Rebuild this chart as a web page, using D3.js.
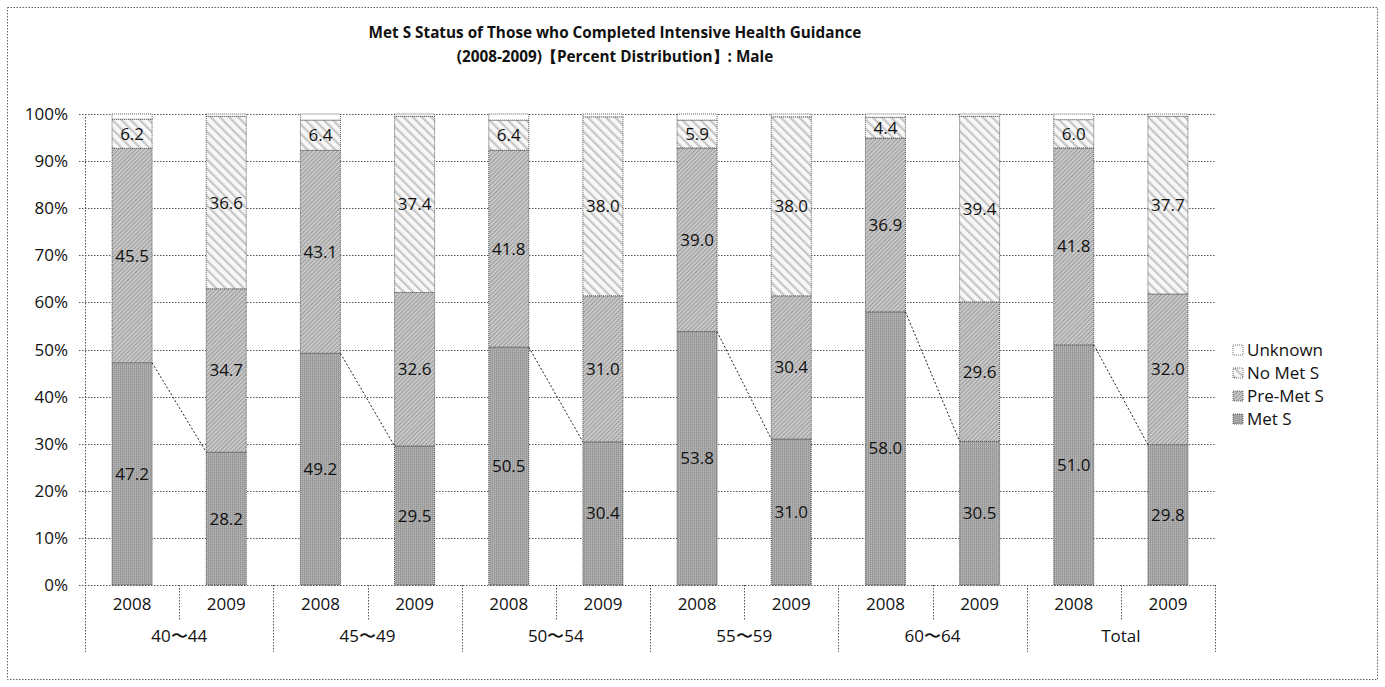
<!DOCTYPE html>
<meta charset="utf-8">
<style>
body { margin: 0; background: #fff; }
text { font-family: "Open Sans", "Noto Sans", sans-serif; fill: #111; }
.grid line { stroke: #555; stroke-dasharray: 1.5,1.5; stroke-width: 1; }
.lbl { font-size: 17px; text-anchor: middle; }
</style>
<svg width="1385" height="687"></svg>
<script src="https://d3js.org/d3.v7.min.js"></script>
<script>

var groups = ["40\u301C44", "45\u301C49", "50\u301C54", "55\u301C59", "60\u301C64", "Total"];
var years = ["2008", "2009"];
var series = ["Met S", "Pre-Met S", "No Met S", "Unknown"];

// values per bar, in order of groups x years
var metS    = [47.2, 28.2, 49.2, 29.5, 50.5, 30.4, 53.8, 31.0, 58.0, 30.5, 51.0, 29.8];
var preMetS = [45.5, 34.7, 43.1, 32.6, 41.8, 31.0, 39.0, 30.4, 36.9, 29.6, 41.8, 32.0];
var noMetS  = [ 6.2, 36.6,  6.4, 37.4,  6.4, 38.0,  5.9, 38.0,  4.4, 39.4,  6.0, 37.7];
var unknown = [ 1.1,  0.5,  1.3,  0.5,  1.3,  0.6,  1.3,  0.6,  0.7,  0.5,  1.2,  0.5];

var yTicks = [0, 10, 20, 30, 40, 50, 60, 70, 80, 90, 100];

var svg = d3.select("svg");

var pLeft = 85, pRight = 1215, pTop = 114, pBottom = 585;

var keys = [];
groups.forEach(function(g) { years.forEach(function(y) { keys.push(g + "|" + y); }); });

var x = d3.scaleBand().domain(keys).range([pLeft, pRight])
    .paddingInner(0.575).paddingOuter(0.2875);
var y = d3.scaleLinear().domain([0, 100]).range([pBottom, pTop]);

// patterns
var defs = svg.append("defs");

var p1 = defs.append("pattern").attr("id", "pMet").attr("patternUnits", "userSpaceOnUse")
    .attr("width", 2).attr("height", 2);
p1.append("rect").attr("width", 2).attr("height", 2).attr("fill", "#b8b8b8");
p1.append("rect").attr("width", 1).attr("height", 2).attr("fill", "#9a9a9a");
p1.append("rect").attr("x", 1).attr("width", 1).attr("height", 1).attr("fill", "#a6a6a6");

var p2 = defs.append("pattern").attr("id", "pPre").attr("patternUnits", "userSpaceOnUse")
    .attr("width", 3).attr("height", 3).attr("patternTransform", "rotate(45)");
p2.append("rect").attr("width", 3).attr("height", 3).attr("fill", "#cdcdcd");
p2.append("rect").attr("width", 1.2).attr("height", 3).attr("fill", "#9c9c9c");

var p3 = defs.append("pattern").attr("id", "pNo").attr("patternUnits", "userSpaceOnUse")
    .attr("width", 6.5).attr("height", 6.5).attr("patternTransform", "rotate(-45)");
p3.append("rect").attr("width", 6.5).attr("height", 6.5).attr("fill", "#f7f7f7");
p3.append("rect").attr("width", 2.2).attr("height", 6.5).attr("fill", "#c6c6c6");

var fills = { "Met S": "url(#pMet)", "Pre-Met S": "url(#pPre)", "No Met S": "url(#pNo)", "Unknown": "#fff" };
var vals = { "Met S": metS, "Pre-Met S": preMetS, "No Met S": noMetS, "Unknown": unknown };

// outer border
svg.append("rect").attr("x", 7.5).attr("y", 7.5).attr("width", 1370).attr("height", 672)
    .attr("fill", "none").attr("stroke", "#666").attr("stroke-dasharray", "1.5,1.5");

// title
svg.append("text").attr("x", 615).attr("y", 38).attr("text-anchor", "middle")
    .style("font-size", "15.3px").style("font-weight", "bold")
    .text("Met S Status of Those who Completed Intensive Health Guidance");
svg.append("text").attr("x", 615).attr("y", 62).attr("text-anchor", "middle")
    .style("font-size", "15.3px").style("font-weight", "bold")
    .text("(2008-2009)\u3010Percent Distribution\u3011: Male");

// grid
var grid = svg.append("g").attr("class", "grid");
grid.selectAll("line").data(yTicks).enter().append("line")
    .attr("x1", pLeft - 6).attr("x2", pRight)
    .attr("y1", function(d) { return Math.round(y(d)) + 0.5; })
    .attr("y2", function(d) { return Math.round(y(d)) + 0.5; });
grid.append("line").attr("x1", pLeft + 0.5).attr("x2", pLeft + 0.5)
    .attr("y1", pTop).attr("y2", pBottom);

svg.selectAll(".ytick").data(yTicks).enter().append("text")
    .attr("x", 68).attr("y", function(d) { return y(d) + 6; })
    .attr("text-anchor", "end").style("font-size", "17px")
    .text(function(d) { return d + "%"; });

// stacked bars
var stackData = keys.map(function(k, i) {
    var o = { key: k };
    series.forEach(function(s) { o[s] = vals[s][i]; });
    return o;
});
var stacked = d3.stack().keys(series)(stackData);

var layer = svg.selectAll(".layer").data(stacked).enter().append("g")
    .attr("fill", function(d) { return fills[d.key]; });

layer.selectAll("rect").data(function(d) { return d; }).enter().append("rect")
    .attr("x", function(d) { return x(d.data.key); })
    .attr("width", x.bandwidth())
    .attr("y", function(d) { return y(d[1]); })
    .attr("height", function(d) { return y(d[0]) - y(d[1]); })
    .attr("stroke", "#333").attr("stroke-width", 0.8).attr("stroke-dasharray", "1,1");

// labels
stacked.forEach(function(s) {
    if (s.key == "Unknown") return;
    svg.selectAll(null).data(s).enter().append("text").attr("class", "lbl")
        .attr("x", function(d) { return x(d.data.key) + x.bandwidth() / 2; })
        .attr("y", function(d) { return y((d[0] + d[1]) / 2) + 6; })
        .text(function(d) { return (d[1] - d[0]).toFixed(1); });
});

// dashed series lines between 2008 and 2009 Met S tops
var metLayer = stacked[0];
for (var g = 0; g < groups.length; g++) {
    var a = metLayer[g * 2], b = metLayer[g * 2 + 1];
    svg.append("line")
        .attr("x1", x(a.data.key) + x.bandwidth()).attr("y1", y(a[1]))
        .attr("x2", x(b.data.key)).attr("y2", y(b[1]))
        .attr("stroke", "#222").attr("stroke-width", 1).attr("stroke-dasharray", "2,2");
}

// x axis: years and groups
var step = x.step();
svg.selectAll(".yr").data(keys).enter().append("text")
    .attr("x", function(d) { return x(d) + x.bandwidth() / 2; })
    .attr("y", 610).attr("text-anchor", "middle").style("font-size", "17px")
    .text(function(d) { return d.split("|")[1]; });

svg.selectAll(".grp").data(groups).enter().append("text")
    .attr("x", function(d, i) { return pLeft + (2 * i + 1) * step; })
    .attr("y", 642).attr("text-anchor", "middle").style("font-size", "17px")
    .text(function(d) { return d; });

var sep = svg.append("g").attr("class", "grid");
for (var i = 0; i <= keys.length; i++) {
    var xx = Math.round(pLeft + i * step) + 0.5;
    sep.append("line").attr("x1", xx).attr("x2", xx)
        .attr("y1", pBottom).attr("y2", i % 2 == 0 ? 652 : 620);
}

// legend
var legend = svg.selectAll(".leg").data(series.slice().reverse()).enter().append("g")
    .attr("transform", function(d, i) { return "translate(1233," + (345 + i * 23) + ")"; });
legend.append("rect").attr("width", 10).attr("height", 10)
    .attr("fill", function(d) { return fills[d]; })
    .attr("stroke", "#444").attr("stroke-width", 0.8).attr("stroke-dasharray", "1,1");
legend.append("text").attr("x", 14).attr("y", 11).style("font-size", "17px")
    .text(function(d) { return d; });

</script>
